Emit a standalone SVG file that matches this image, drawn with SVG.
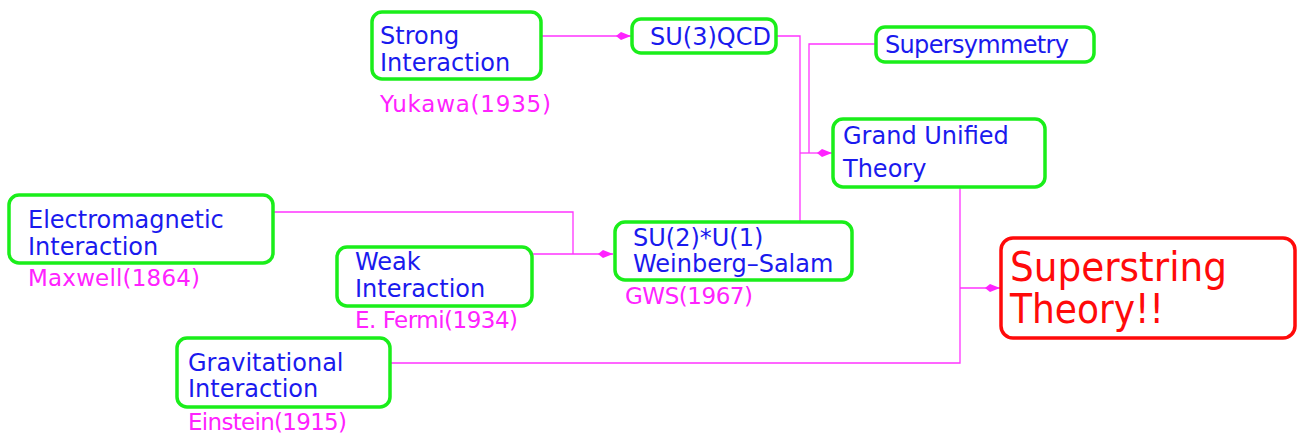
<svg xmlns="http://www.w3.org/2000/svg" width="1297" height="434" viewBox="0 0 1297 434">
<style>
.box{fill:#ffffff;stroke:#1aee1a;stroke-width:3.5}
.final{fill:#ffffff;stroke:#ff0a0a;stroke-width:3.5}
.t{font-family:"DejaVu Sans","Liberation Sans",sans-serif;font-size:24px;fill:#1a1aee}
.lbl{font-family:"DejaVu Sans","Liberation Sans",sans-serif;font-size:23px;fill:#ff22ff}
.big{font-family:"DejaVu Sans","Liberation Sans",sans-serif;font-size:40px;fill:#ff0a0a}
.c{fill:none;stroke:#ff33ff;stroke-width:1.3}
</style>
<defs>
<marker id="kite" markerWidth="16" markerHeight="10" refX="15" refY="5" orient="auto" markerUnits="userSpaceOnUse">
<path d="M0,5 L5,1 L15,5 L5,9 Z" fill="#ff22ff"/>
</marker>
</defs>
<rect width="1297" height="434" fill="#ffffff"/>
<g id="connectors">
<path class="c" d="M541,36 H631" marker-end="url(#kite)"/>
<path class="c" d="M776,36 H800 V221"/>
<path class="c" d="M876,44 H809 V153"/>
<path class="c" d="M800,153 H832" marker-end="url(#kite)"/>
<path class="c" d="M273,212 H573 V254"/>
<path class="c" d="M532,254 H613" marker-end="url(#kite)"/>
<path class="c" d="M960,187 V363 H390"/>
<path class="c" d="M960,288 H1000" marker-end="url(#kite)"/>
</g>
<g id="strong">
<rect class="box" x="372" y="12" width="169" height="67" rx="10"/>
<text class="t" x="380" y="44">Strong</text>
<text class="t" x="380" y="71">Interaction</text>
<text class="lbl" x="380" y="112" textLength="171">Yukawa(1935)</text>
</g>
<g id="su3">
<rect class="box" x="632" y="19" width="144" height="34" rx="9"/>
<text class="t" x="650" y="45">SU(3)QCD</text>
</g>
<g id="susy">
<rect class="box" x="876" y="27" width="218" height="35" rx="9"/>
<text class="t" x="885" y="53" textLength="184">Supersymmetry</text>
</g>
<g id="gut">
<rect class="box" x="833" y="119" width="212" height="68" rx="10"/>
<text class="t" x="843" y="144">Grand Unified</text>
<text class="t" x="843" y="177">Theory</text>
</g>
<g id="em">
<rect class="box" x="9" y="195" width="264" height="68" rx="10"/>
<text class="t" x="28" y="228">Electromagnetic</text>
<text class="t" x="28" y="255">Interaction</text>
<text class="lbl" x="28" y="286" textLength="172">Maxwell(1864)</text>
</g>
<g id="weak">
<rect class="box" x="337" y="247" width="195" height="59" rx="10"/>
<text class="t" x="355" y="270">Weak</text>
<text class="t" x="355" y="297">Interaction</text>
<text class="lbl" x="355" y="328" textLength="163">E. Fermi(1934)</text>
</g>
<g id="su2">
<rect class="box" x="615" y="222" width="237" height="58" rx="10"/>
<text class="t" x="633" y="246">SU(2)*U(1)</text>
<text class="t" x="633" y="272">Weinberg–Salam</text>
<text class="lbl" x="625" y="304" textLength="128">GWS(1967)</text>
</g>
<g id="grav">
<rect class="box" x="177" y="338" width="213" height="69" rx="10"/>
<text class="t" x="188" y="371">Gravitational</text>
<text class="t" x="188" y="397">Interaction</text>
<text class="lbl" x="188" y="430" textLength="159">Einstein(1915)</text>
</g>
<g id="superstring">
<rect class="final" x="1001" y="238" width="294" height="100" rx="12"/>
<text class="big" x="1010" y="281" textLength="217" lengthAdjust="spacingAndGlyphs">Superstring</text>
<text class="big" x="1010" y="323" textLength="154" lengthAdjust="spacingAndGlyphs">Theory!!</text>
</g>
</svg>
